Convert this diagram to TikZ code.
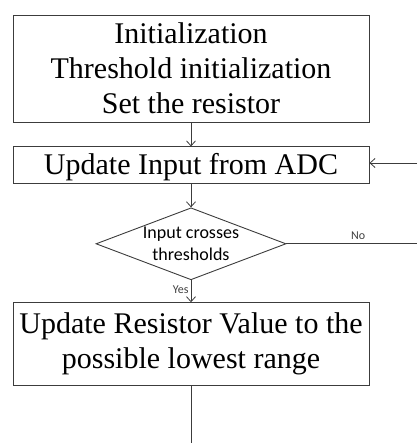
\documentclass[tikz,border=0pt]{standalone}
\usepackage{fontspec}
\setmainfont{Liberation Serif}
\newfontfamily\calibri{Carlito}
\usepackage{tikz}
\definecolor{linegray}{RGB}{60,60,60}
\usetikzlibrary{shapes.geometric,arrows.meta,positioning}

\begin{document}
\begin{tikzpicture}[
    x=1pt, y=1pt,
    process/.style={rectangle, draw=linegray, line width=0.9pt, minimum width=356pt, align=center, font=\fontsize{30}{35}\selectfont},
    decision/.style={diamond, aspect=2.64, draw=linegray, line width=0.9pt, minimum width=190pt, minimum height=72pt, inner sep=-10pt, align=center, font=\calibri\fontsize{18}{22}\selectfont},
    tag/.style={font=\calibri\fontsize{12}{14}\selectfont, text=black!75, inner sep=1pt},
    arrow/.style={-{Straight Barb[length=5pt,width=9pt]}, draw=linegray, line width=0.8pt},
    wire/.style={draw=linegray, line width=0.8pt}
]
\useasboundingbox (0,0) rectangle (417,443);

% Flow blocks
\node[process, minimum height=107pt] (init) at (191,374.5) {Initialization\\Threshold initialization\\Set the resistor};
\node[process, minimum height=37pt, text height=22pt, text depth=3pt, below=24pt of init] (update) {Update Input from ADC};
\node[decision, below=23pt of update] (check) {Input crosses\\thresholds};
\node[process, minimum height=83pt, below=22pt of check] (resistor) {Update Resistor Value to the\\possible lowest range};

% Loose ends at the border
\coordinate (loopin) at (417,280);
\coordinate (noout) at (check.east -| loopin);
\coordinate (down) at (resistor.south |- 0,0);

% Arrows
\draw[arrow] (init) -- (update);
\draw[arrow] (update) -- (check);
\draw[arrow] (check) -- node[tag, left=1pt, pos=0.45] (yes) {Yes} (resistor);
\draw[wire] (check.east) -- node[tag, above=3pt, pos=0.55] (no) {No} (noout);
\draw[arrow] (loopin) -- (update.east |- loopin);
\draw[wire] (resistor) -- (down);

\end{tikzpicture}
\end{document}
